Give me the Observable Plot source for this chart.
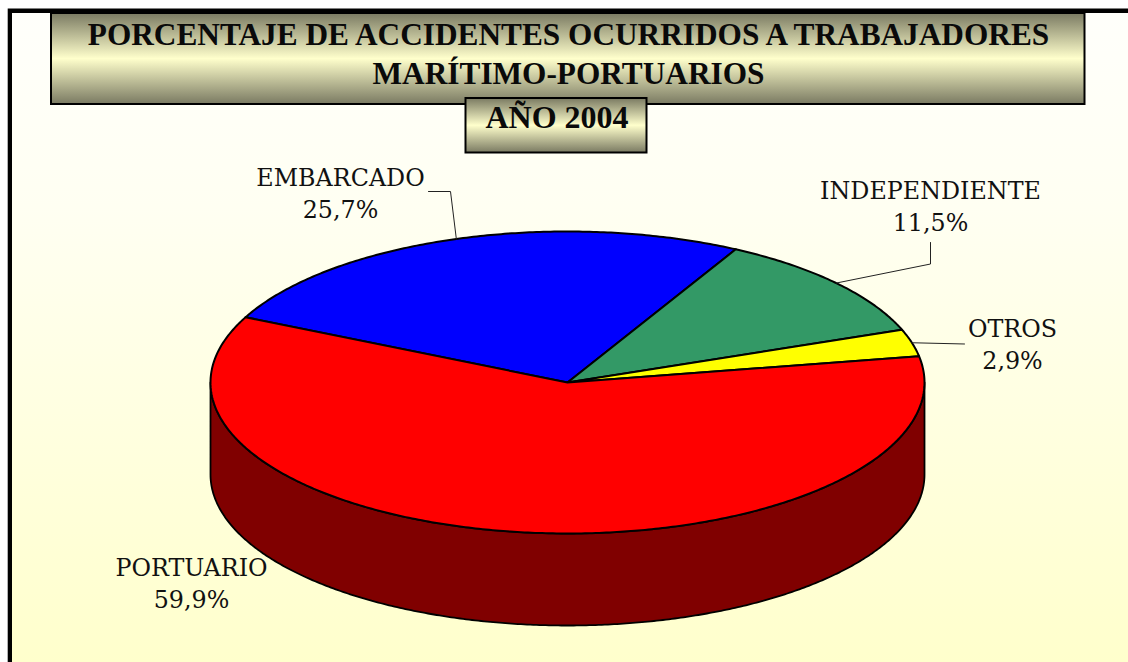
<!DOCTYPE html>
<html>
<head>
<meta charset="utf-8">
<script src="https://cdn.jsdelivr.net/npm/d3@7"></script>
<script src="https://cdn.jsdelivr.net/npm/@observablehq/plot@0.6"></script>
<style>
html,body{margin:0;padding:0;background:#fff;overflow:hidden}
svg{display:block}
</style>
</head>
<body>
<div id="chart"></div>
<script>
// Data
const categories = ["EMBARCADO", "INDEPENDIENTE", "OTROS", "PORTUARIO"];
const percents = [25.7, 11.5, 2.9, 59.9];
const percentLabels = ["25,7%", "11,5%", "2,9%", "59,9%"];
const titleLines = ["PORCENTAJE DE ACCIDENTES OCURRIDOS A TRABAJADORES", "MARÍTIMO-PORTUARIOS"];
const yearLabel = "AÑO 2004";

// Styles and layout
const sliceColors = ["#0000ff", "#339966", "#ffff00", "#ff0000"];
const sideColor = "#800000";
const W = 1128, H = 662;
const cx = 567, cy = 382, rx = 357, ry = 151, depthPx = 92;
const startDeg = -64.4;
const labelFont = "'DejaVu Serif', serif";
const titleFont = "'Liberation Serif', serif";

// Pie units <-> pixels: the Plot scales map the unit ellipse onto the page
const ux = px => (px - cx) / rx;
const uy = py => (cy - py) / ry;
const depth = depthPx / ry;

const arcs = d3.pie().sort(null).value(d => d)
  .startAngle(startDeg * Math.PI / 180)
  .endAngle((startDeg + 360) * Math.PI / 180)(percents);

const pt = (a, dz = 0) => ({x: Math.sin(a), y: Math.cos(a) - dz});
const slicePts = arcs.flatMap((s, i) => {
  const n = Math.max(4, Math.ceil((s.endAngle - s.startAngle) / 0.01));
  const pts = [{x: 0, y: 0}];
  for (let k = 0; k <= n; k++) pts.push(pt(s.startAngle + (s.endAngle - s.startAngle) * k / n));
  pts.push({x: 0, y: 0});
  return pts.map(p => ({...p, slice: i}));
});

// The side wall: the part of the rim facing the viewer (front half of the ellipse)
const sidePts = [];
for (let k = 0; k <= 360; k++) sidePts.push(pt(Math.PI / 2 + Math.PI * k / 360));
for (let k = 360; k >= 0; k--) sidePts.push(pt(Math.PI / 2 + Math.PI * k / 360, depth));
sidePts.push(sidePts[0]);

// Leaders start at each slice's mid-angle on the rim
const mid = arcs.map(s => (s.startAngle + s.endAngle) / 2);
const leaderBends = [
  [[450, 191], [428, 191]],
  [[930, 263.5], [930, 242]],
  [[964, 343.5]],
  []
];
const leaders = arcs.flatMap((s, i) => i === 3 ? [] : [
  {...pt(mid[i]), i},
  ...leaderBends[i].map(([px, py]) => ({x: ux(px), y: uy(py), i}))
]);

const labelPos = [[340, 185], [930, 198], [1012, 336], [191, 575]];
const labelRows = categories.flatMap((c, i) => [
  {t: c, x: ux(labelPos[i][0]), y: uy(labelPos[i][1])},
  {t: percentLabels[i], x: ux(labelPos[i][0]), y: uy(labelPos[i][1] + 32)}
]);

const box = (x1, x2, y1, y2) => ({x1: ux(x1), x2: ux(x2), y1: uy(y1), y2: uy(y2)});
const rectOf = (b, opts) => Plot.rect([b], {x1: "x1", x2: "x2", y1: "y1", y2: "y2", ...opts});

const defs = () => {
  const d = d3.create("svg:defs");
  const bg = d.append("linearGradient").attr("id", "bgGrad").attr("x1", 0).attr("x2", 0).attr("y1", 0).attr("y2", 1);
  bg.append("stop").attr("offset", "0%").attr("stop-color", "#fffffb");
  bg.append("stop").attr("offset", "30%").attr("stop-color", "#fffff2");
  bg.append("stop").attr("offset", "100%").attr("stop-color", "#ffffcc");
  const tg = d.append("linearGradient").attr("id", "boxGrad").attr("x1", 0).attr("x2", 0).attr("y1", 0).attr("y2", 1);
  tg.append("stop").attr("offset", "0%").attr("stop-color", "#7a7a62");
  tg.append("stop").attr("offset", "50%").attr("stop-color", "#ffffcc");
  tg.append("stop").attr("offset", "100%").attr("stop-color", "#7a7a62");
  return d.node();
};

const chart = Plot.plot({
  width: W, height: H,
  margin: 0,
  style: {background: "#fff", overflow: "visible"},
  x: {domain: [-1, 1], range: [cx - rx, cx + rx], axis: null},
  y: {domain: [-1, 1], range: [cy + ry, cy - ry], axis: null},
  marks: [
    defs,
    rectOf(box(7.7, 1128, 8.5, 662), {fill: "#000"}),
    rectOf(box(12, 1128, 13, 662), {fill: "url(#bgGrad)"}),

    // pie
    Plot.line(sidePts, {x: "x", y: "y", fill: sideColor, stroke: "#000", strokeWidth: 1.8, curve: "linear"}),
    ...arcs.map((s, i) => Plot.line(slicePts.filter(p => p.slice === i), {
      x: "x", y: "y", fill: sliceColors[i], stroke: "#000", strokeWidth: 2, curve: "linear", strokeLinejoin: "round"
    })),

    // leaders
    Plot.line(leaders, {x: "x", y: "y", z: "i", stroke: "#222", strokeWidth: 1, curve: "linear"}),

    // labels
    Plot.text(labelRows, {x: "x", y: "y", text: "t", textAnchor: "middle", lineAnchor: "bottom",
      fontFamily: labelFont, fontSize: 23.8, fill: "#111"}),

    // title boxes
    rectOf(box(51, 1084.5, 13, 104), {fill: "url(#boxGrad)", stroke: "#000", strokeWidth: 2}),
    rectOf(box(465.5, 646.5, 98, 152.5), {fill: "url(#boxGrad)", stroke: "#000", strokeWidth: 2}),
    Plot.text(titleLines.map((t, i) => ({t, x: ux(568), y: uy(i ? 83 : 44)})), {
      x: "x", y: "y", text: "t", textAnchor: "middle", lineAnchor: "bottom",
      fontFamily: titleFont, fontWeight: "bold", fontSize: 31.3, fill: "#0a0a0a"
    }),
    Plot.text([{t: yearLabel, x: ux(556.5), y: uy(127)}], {
      x: "x", y: "y", text: "t", textAnchor: "middle", lineAnchor: "bottom",
      fontFamily: titleFont, fontWeight: "bold", fontSize: 32, fill: "#0a0a0a"
    })
  ]
});
document.getElementById("chart").append(chart);
</script>
</body>
</html>
